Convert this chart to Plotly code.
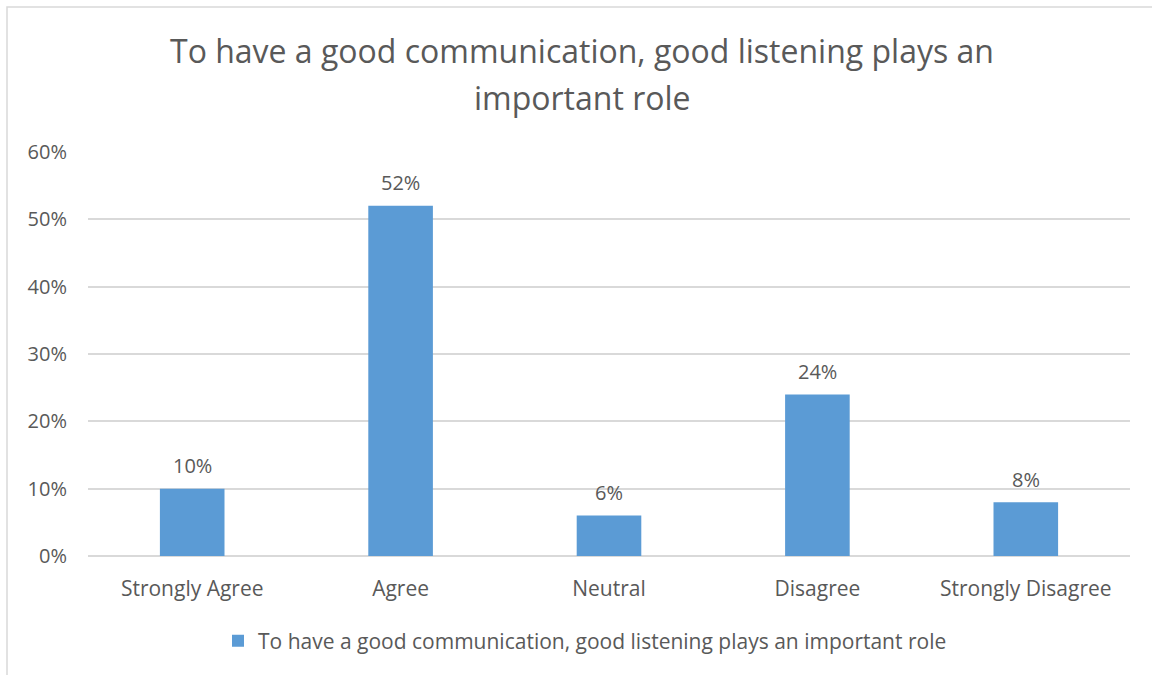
import plotly.graph_objects as go

categories = ["Strongly Agree", "Agree", "Neutral", "Disagree", "Strongly Disagree"]
shares = [0.10, 0.52, 0.06, 0.24, 0.08]
series_name = "To have a good communication, good listening plays an important role"
title_lines = ["To have a good communication, good listening plays an", "important role"]

TEXT = "#595959"
BAR = "#5B9BD5"
GRID = "#D9D9D9"
FONT = "Open Sans"

W, H = 1152, 675
ML, MR, MT, MB = 88, 22, 152, 119
PW, PH = W - ML - MR, H - MT - MB


def px_x(x):
    return (x - ML) / PW


def px_y(y):
    return (MT + PH - y) / PH


fig = go.Figure()
fig.add_trace(go.Bar(
    x=categories,
    y=shares,
    name=series_name,
    marker=dict(color=BAR, line=dict(width=0)),
    width=0.31,
    showlegend=True,
))

# value labels above each bar
for cat, v in zip(categories, shares):
    fig.add_annotation(
        x=cat, y=v, xref="x", yref="y",
        text=f"{v:.0%}", showarrow=False,
        yanchor="middle", yshift=23,
        font=dict(family=FONT, size=20, color=TEXT),
    )

# two-line chart title
for i, line in enumerate(title_lines):
    fig.add_annotation(
        x=px_x(582), y=px_y(50 + 47 * i), xref="paper", yref="paper",
        text=line, showarrow=False, xanchor="center", yanchor="middle",
        font=dict(family=FONT, size=32, color=TEXT),
    )

# light chart-area frame
fig.add_shape(
    type="rect", xref="paper", yref="paper",
    x0=px_x(7), x1=px_x(W + 10),
    y0=px_y(H + 10), y1=px_y(7),
    line=dict(color=GRID, width=1.5), fillcolor="rgba(0,0,0,0)", layer="below",
)

fig.update_layout(
    width=W, height=H,
    margin=dict(l=ML, r=MR, t=MT, b=MB),
    paper_bgcolor="white", plot_bgcolor="white",
    font=dict(family=FONT, color=TEXT, size=21),
    bargap=0.69,
    legend=dict(
        orientation="h", x=px_x(218), xanchor="left",
        y=px_y(641), yanchor="middle",
        font=dict(family=FONT, size=21, color=TEXT),
        itemwidth=30,
    ),
    xaxis=dict(
        showgrid=False, showline=False, zeroline=False,
        ticks="", ticklabelstandoff=18,
        tickfont=dict(family=FONT, size=21, color=TEXT),
    ),
    yaxis=dict(
        range=[0, 0.6], dtick=0.1, tickformat=".0%",
        showgrid=True, gridcolor=GRID, gridwidth=1.5,
        zeroline=True, zerolinecolor=GRID, zerolinewidth=1.5,
        showline=False, ticks="", ticklabelstandoff=20,
        tickfont=dict(family=FONT, size=20, color=TEXT),
    ),
)

fig.write_html("out.html")
